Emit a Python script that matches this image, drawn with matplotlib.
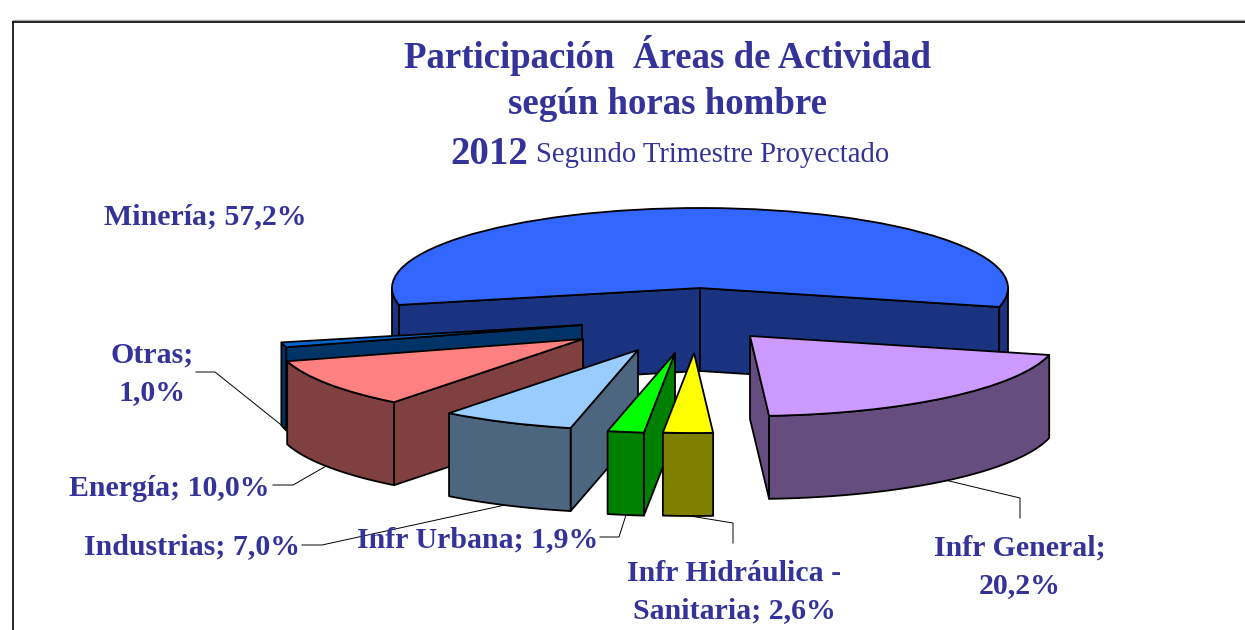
'''Participacion areas de actividad: 3D exploded pie drawn with patches'''
import numpy as np
import matplotlib
matplotlib.use('Agg')
import matplotlib.pyplot as plt
from matplotlib.patches import Wedge, Polygon
from matplotlib.transforms import Affine2D

plt.rcParams['font.family'] = ['Liberation Serif', 'DejaVu Serif']

# data, clockwise from the start of Mineria
areas = ['Minería', 'Infr General', 'Infr Hidráulica -\nSanitaria', 'Infr Urbana',
         'Industrias', 'Energía', 'Otras']
valores = [57.2, 20.2, 2.6, 1.9, 7.0, 10.0, 1.0]
separador = [' ', '\n', ' ', ' ', ' ', ' ', '\n']

# styles
col_top = ['#3366FF', '#CC99FF', '#FFFF00', '#00FF00', '#99CCFF', '#FF8080', '#0066CC']
col_side = ['#1A3380', '#664D80', '#808000', '#008000', '#4D6680', '#804040', '#003366']
azul = '#333399'

# pie geometry in image pixels
cx, cy = 700, 288
rx, ry = 308, 80
depth = 83
start = -192.2
# how far each slice is pulled out, like explode in ax.pie
explode = [(0, 0), (50, 48), (-6, 65), (-25, 65), (-62, 62), (-117, 51), (-118, 37)]
# drawing order, back to front
orden = [0, 6, 5, 4, 3, 2, 1]

# label anchors and leader lines
lab_xy = [(205, 217), (1020, 567), (734, 592), (478, 540), (192, 547), (169, 489), (152, 374)]
leaders = [None,
           [(945, 480), (1020, 498), (1020, 518)],
           [(690, 516), (733, 523), (733, 543)],
           [(600, 537), (619, 537), (626, 515)],
           [(302, 545), (322, 545), (505, 505)],
           [(273, 485), (293, 485), (328, 465)],
           [(196, 372), (215, 372), (285, 428)]]

fig = plt.figure(figsize=(12.45, 6.3), dpi=100)
ax = fig.add_axes([0, 0, 1, 1])
ax.set_xlim(0, 1245)
ax.set_ylim(630, 0)
ax.axis('off')

# frame
ax.plot([13, 1245], [19.5, 19.5], color='#aaaaaa', lw=1, zorder=1)
ax.plot([12.5, 1245], [21.5, 21.5], color='k', lw=1.2, zorder=1)
ax.plot([12.5, 12.5], [21.5, 630], color='k', lw=1.2, zorder=1)

# slice angles from the values
ang = start + np.cumsum([0] + valores) * 3.6
lw = 1.3


def pt(x0, y0, t):
    t = np.radians(t)
    return np.column_stack([x0 + rx * np.cos(t), y0 + ry * np.sin(t)])


def wall(x0, y0, t, c, z):
    # flat cut face from the centre to the rim, seen only if it faces the viewer
    p = pt(x0, y0, t)[0]
    ax.add_patch(Polygon([(x0, y0), p, (p[0], p[1] + depth), (x0, y0 + depth)],
                         fc=c, ec='k', lw=lw, joinstyle='round', zorder=z))


for z, i in enumerate(orden):
    t1, t2 = ang[i], ang[i + 1]
    x0 = cx + explode[i][0]
    y0 = cy + explode[i][1]
    zz = 3 + z
    if np.sin(np.radians(t1 - 90)) > 0:
        wall(x0, y0, t1, col_side[i], zz)
    if np.sin(np.radians(t2 + 90)) > 0:
        wall(x0, y0, t2, col_side[i], zz)
    # rim, only the part turned to the front
    for k in (-360, 0):
        lo, hi = max(t1, k), min(t2, k + 180)
        if hi > lo:
            arc = pt(x0, y0, np.linspace(lo, hi, 60))
            low = arc[::-1] + [0, depth]
            ax.add_patch(Polygon(np.vstack([arc, low]), fc=col_side[i], ec='k', lw=lw,
                                 joinstyle='round', zorder=zz))
    tr = Affine2D().scale(rx, ry).translate(x0, y0) + ax.transData
    ax.add_patch(Wedge((0, 0), 1, t1, t2, fc=col_top[i], ec='k', lw=lw, transform=tr, zorder=zz))

# leaders
for ln in leaders:
    if ln is not None:
        ax.plot([p[0] for p in ln], [p[1] for p in ln], color='k', lw=0.7, zorder=2)

# labels
for i in range(len(areas)):
    txt = areas[i] + ';' + separador[i] + ('%.1f%%' % valores[i]).replace('.', ',')
    ax.text(lab_xy[i][0], lab_xy[i][1], txt, color=azul, fontsize=21.5, fontweight='bold',
            ha='center', va='center', linespacing=1.5, zorder=20)

# titles
ax.text(668, 55, 'Participación  Áreas de Actividad', color=azul, fontsize=26.6,
        fontweight='bold', ha='center', va='center')
ax.text(668, 104, 'según horas hombre', color=azul, fontsize=26.6,
        fontweight='bold', ha='center', va='center')
ax.text(450, 154, '2012', color=azul, fontsize=28, fontweight='bold', ha='left', va='center')
ax.text(536, 155, 'Segundo Trimestre Proyectado', color=azul, fontsize=20.6, ha='left', va='center')

plt.savefig('out.png', dpi=100)
